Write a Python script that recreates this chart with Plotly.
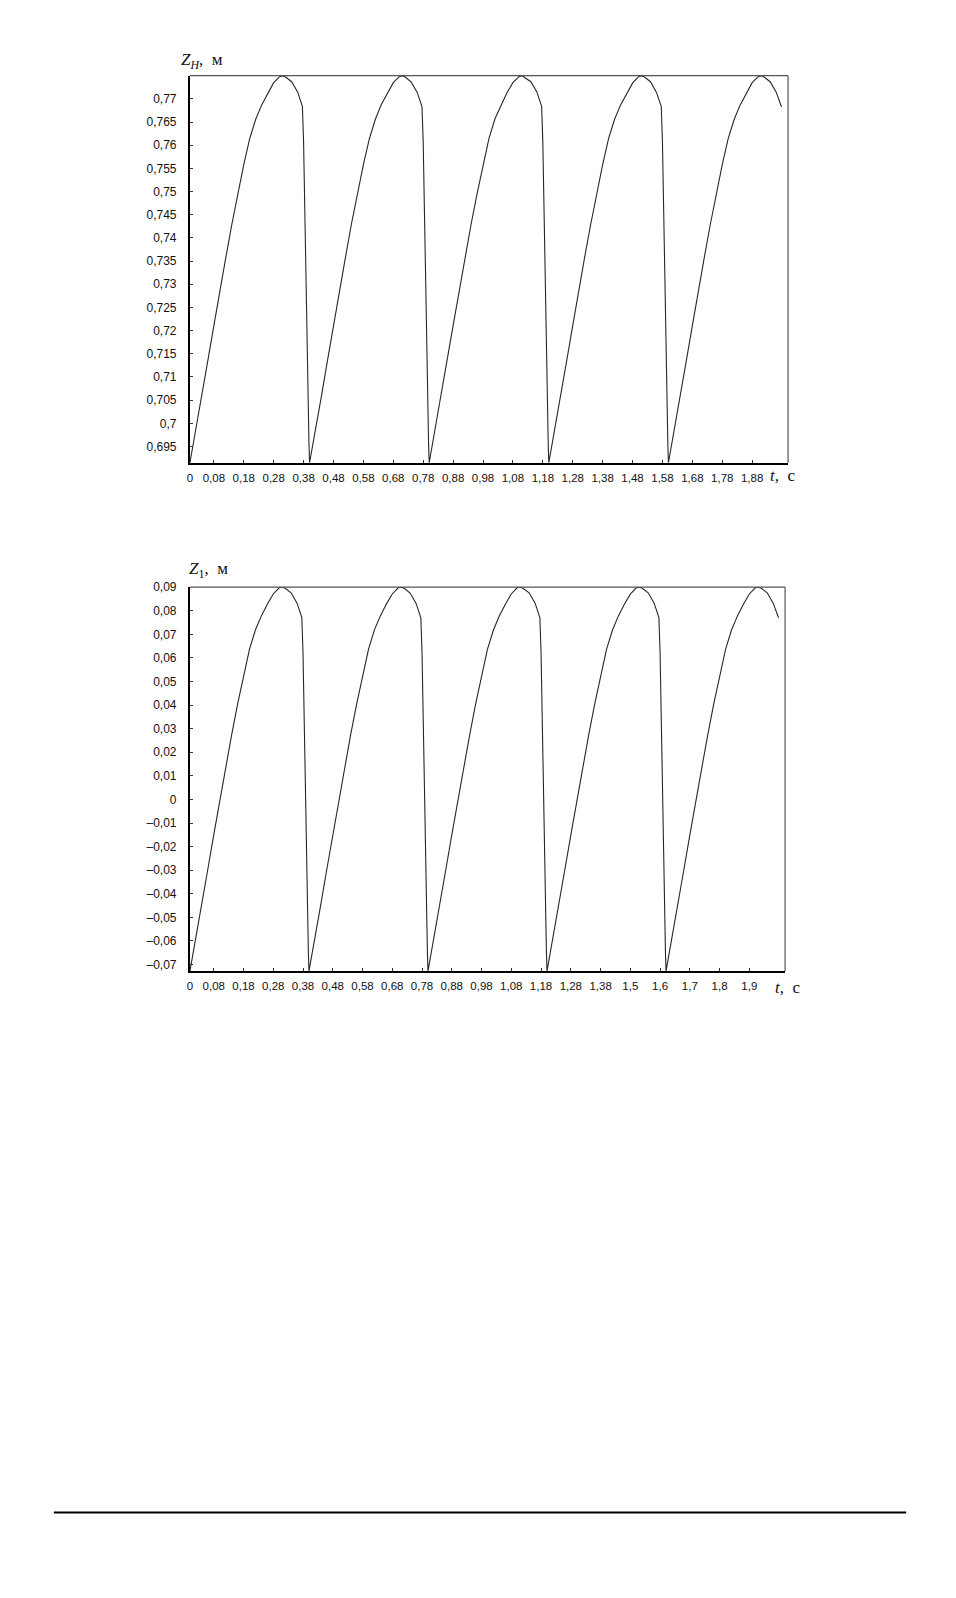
import plotly.graph_objects as go

# ---------------- data ----------------
t_c1 = [0.00, 0.02, 0.04, 0.06, 0.08, 0.10, 0.12, 0.14, 0.16, 0.18, 0.20, 0.22, 0.24,
        0.26, 0.28, 0.30, 0.31, 0.32, 0.34, 0.36, 0.376, 0.380, 0.384, 0.388, 0.393, 0.398]
t_c2 = [0.40, 0.42, 0.44, 0.46, 0.48, 0.50, 0.52, 0.54, 0.56, 0.58, 0.60, 0.62, 0.64,
        0.66, 0.68, 0.70, 0.71, 0.72, 0.74, 0.76, 0.776, 0.780, 0.784, 0.788, 0.793, 0.798]
t_c3 = [0.80, 0.82, 0.84, 0.86, 0.88, 0.90, 0.92, 0.94, 0.96, 0.98, 1.00, 1.02, 1.04,
        1.06, 1.08, 1.10, 1.11, 1.12, 1.14, 1.16, 1.176, 1.180, 1.184, 1.188, 1.193, 1.198]
t_c4 = [1.20, 1.22, 1.24, 1.26, 1.28, 1.30, 1.32, 1.34, 1.36, 1.38, 1.40, 1.42, 1.44,
        1.46, 1.48, 1.50, 1.51, 1.52, 1.54, 1.56, 1.576, 1.580, 1.584, 1.588, 1.593, 1.598]
t_c5 = [1.60, 1.62, 1.64, 1.66, 1.68, 1.70, 1.72, 1.74, 1.76, 1.78, 1.80, 1.82, 1.84,
        1.86, 1.88, 1.90, 1.91, 1.92, 1.94, 1.96, 1.978]

zh_c1 = [0.6915, 0.6986, 0.7061, 0.7136, 0.7211, 0.7287, 0.7358, 0.7429, 0.7495, 0.7558,
         0.7615, 0.7656, 0.7687, 0.7712, 0.7735, 0.7748, 0.7750, 0.7747, 0.7737, 0.7715,
         0.7684, 0.7608, 0.7449, 0.7282, 0.7107, 0.6957]
zh_c2 = [0.6915, 0.6985, 0.7060, 0.7136, 0.7212, 0.7287, 0.7358, 0.7430, 0.7496, 0.7558,
         0.7614, 0.7656, 0.7688, 0.7712, 0.7735, 0.7748, 0.7750, 0.7747, 0.7736, 0.7714,
         0.7683, 0.7606, 0.7447, 0.7280, 0.7105, 0.6956]
zh_c3 = [0.6915, 0.6986, 0.7061, 0.7137, 0.7211, 0.7286, 0.7358, 0.7429, 0.7495, 0.7559,
         0.7615, 0.7657, 0.7687, 0.7713, 0.7735, 0.7748, 0.7750, 0.7746, 0.7737, 0.7715,
         0.7684, 0.7607, 0.7448, 0.7281, 0.7106, 0.6957]
zh_c4 = [0.6915, 0.6986, 0.7060, 0.7136, 0.7211, 0.7287, 0.7359, 0.7429, 0.7496, 0.7558,
         0.7615, 0.7656, 0.7687, 0.7712, 0.7734, 0.7748, 0.7750, 0.7747, 0.7737, 0.7714,
         0.7684, 0.7608, 0.7449, 0.7282, 0.7107, 0.6957]
zh_c5 = [0.6915, 0.6986, 0.7061, 0.7136, 0.7211, 0.7287, 0.7358, 0.7429, 0.7495, 0.7558,
         0.7615, 0.7656, 0.7687, 0.7712, 0.7735, 0.7748, 0.7750, 0.7747, 0.7737, 0.7715,
         0.7683]

z1_c1 = [-0.0728, -0.0590, -0.0443, -0.0297, -0.0150, -0.0004, 0.0135, 0.0273, 0.0403, 0.0526,
         0.0636, 0.0718, 0.0778, 0.0827, 0.0871, 0.0897, 0.0900, 0.0895, 0.0876, 0.0832,
         0.0771, 0.0623, 0.0314, -0.0012, -0.0354, -0.0647]
z1_c2 = [-0.0728, -0.0591, -0.0444, -0.0296, -0.0149, -0.0003, 0.0136, 0.0274, 0.0403, 0.0527,
         0.0636, 0.0719, 0.0778, 0.0828, 0.0871, 0.0897, 0.0900, 0.0895, 0.0875, 0.0831,
         0.0770, 0.0621, 0.0312, -0.0014, -0.0356, -0.0648]
z1_c3 = [-0.0728, -0.0590, -0.0443, -0.0297, -0.0150, -0.0004, 0.0135, 0.0273, 0.0404, 0.0526,
         0.0637, 0.0718, 0.0779, 0.0827, 0.0871, 0.0898, 0.0900, 0.0894, 0.0876, 0.0832,
         0.0771, 0.0622, 0.0313, -0.0013, -0.0355, -0.0647]
z1_c4 = [-0.0728, -0.0589, -0.0442, -0.0297, -0.0151, -0.0004, 0.0134, 0.0273, 0.0403, 0.0526,
         0.0636, 0.0718, 0.0778, 0.0827, 0.0870, 0.0897, 0.0900, 0.0895, 0.0876, 0.0832,
         0.0771, 0.0623, 0.0314, -0.0012, -0.0354, -0.0647]
z1_c5 = [-0.0728, -0.0590, -0.0443, -0.0297, -0.0150, -0.0004, 0.0135, 0.0273, 0.0403, 0.0526,
         0.0636, 0.0718, 0.0778, 0.0827, 0.0871, 0.0897, 0.0900, 0.0895, 0.0876, 0.0832,
         0.0770]

x_tickvals = [0, 0.08, 0.18, 0.28, 0.38, 0.48, 0.58, 0.68, 0.78, 0.88, 0.98,
              1.08, 1.18, 1.28, 1.38, 1.48, 1.58, 1.68, 1.78, 1.88]
x_ticktext_top = ["0", "0,08", "0,18", "0,28", "0,38", "0,48", "0,58", "0,68", "0,78", "0,88", "0,98",
                  "1,08", "1,18", "1,28", "1,38", "1,48", "1,58", "1,68", "1,78", "1,88"]
x_ticktext_bot = ["0", "0,08", "0,18", "0,28", "0,38", "0,48", "0,58", "0,68", "0,78", "0,88", "0,98",
                  "1,08", "1,18", "1,28", "1,38", "1,5", "1,6", "1,7", "1,8", "1,9"]
yh_tickvals = [0.695, 0.70, 0.705, 0.71, 0.715, 0.72, 0.725, 0.73, 0.735, 0.74,
               0.745, 0.75, 0.755, 0.76, 0.765, 0.77]
yh_ticktext = ["0,695", "0,7", "0,705", "0,71", "0,715", "0,72", "0,725", "0,73", "0,735", "0,74",
               "0,745", "0,75", "0,755", "0,76", "0,765", "0,77"]
y1_tickvals = [-0.07, -0.06, -0.05, -0.04, -0.03, -0.02, -0.01, 0, 0.01, 0.02, 0.03,
               0.04, 0.05, 0.06, 0.07, 0.08, 0.09]
y1_ticktext = ["–0,07", "–0,06", "–0,05", "–0,04", "–0,03", "–0,02", "–0,01", "0", "0,01", "0,02", "0,03",
               "0,04", "0,05", "0,06", "0,07", "0,08", "0,09"]

t_h = t_c1 + t_c2 + t_c3 + t_c4 + t_c5
z_h = zh_c1 + zh_c2 + zh_c3 + zh_c4 + zh_c5
t_1 = t_c1 + t_c2 + t_c3 + t_c4 + t_c5
z_1 = z1_c1 + z1_c2 + z1_c3 + z1_c4 + z1_c5

# ---------------- layout helpers ----------------
W, H = 956, 1598
OFF = 8  # page body margin around the figure


def fx(px):
    return (px - OFF) / W


def fy(py):
    return 1 - (py - OFF) / H


TOP = dict(x0=187.5, x1=787.5, y0=69, y1=458)
BOT = dict(x0=187.5, x1=784.5, y0=583, y1=969)

tickfont = dict(family="Liberation Sans, Arial, sans-serif", size=12, color="#111")
xtickfont = dict(family="Liberation Sans, Arial, sans-serif", size=11.5, color="#111")
serif = dict(family="Liberation Serif, Times New Roman, serif", size=17, color="#111")

common_x = dict(range=[0, 2.0], showgrid=False, zeroline=False, showline=True,
                linecolor="black", linewidth=2, ticks="inside", ticklen=3,
                tickcolor="#333", tickwidth=1, tickfont=xtickfont, tickmode="array",
                tickvals=x_tickvals, fixedrange=True)
common_y = dict(showgrid=False, zeroline=False, showline=True,
                linecolor="black", linewidth=2, ticks="inside", ticklen=3,
                tickcolor="#333", tickwidth=1, tickfont=tickfont, tickmode="array",
                ticklabelstandoff=9, fixedrange=True)

fig = go.Figure()
fig.add_trace(go.Scatter(x=t_h, y=z_h, mode="lines", line=dict(color="#262626", width=1.1),
                         xaxis="x", yaxis="y", showlegend=False, hoverinfo="skip"))
fig.add_trace(go.Scatter(x=t_1, y=z_1, mode="lines", line=dict(color="#262626", width=1.1),
                         xaxis="x2", yaxis="y2", showlegend=False, hoverinfo="skip"))

fig.update_layout(
    width=W, height=H,
    margin=dict(l=0, r=0, t=0, b=0),
    paper_bgcolor="white", plot_bgcolor="white",
    xaxis=dict(common_x, domain=[fx(TOP["x0"]), fx(TOP["x1"])], anchor="y",
               ticktext=x_ticktext_top, ticklabelstandoff=3),
    yaxis=dict(common_y, domain=[fy(TOP["y1"]), fy(TOP["y0"])], anchor="x",
               range=[0.6915, 0.775], tickvals=yh_tickvals, ticktext=yh_ticktext),
    xaxis2=dict(common_x, domain=[fx(BOT["x0"]), fx(BOT["x1"])], anchor="y2",
                ticktext=x_ticktext_bot, ticklabelstandoff=3),
    yaxis2=dict(common_y, domain=[fy(BOT["y1"]), fy(BOT["y0"])], anchor="x2",
                range=[-0.0728, 0.09], tickvals=y1_tickvals, ticktext=y1_ticktext),
    shapes=[
        dict(type="line", xref="x domain", yref="y domain", x0=0, x1=1, y0=1, y1=1,
             line=dict(color="#555", width=1.2)),
        dict(type="line", xref="x domain", yref="y domain", x0=1, x1=1, y0=0, y1=1,
             line=dict(color="#555", width=1.2)),
        dict(type="line", xref="x2 domain", yref="y2 domain", x0=0, x1=1, y0=1, y1=1,
             line=dict(color="#555", width=1.2)),
        dict(type="line", xref="x2 domain", yref="y2 domain", x0=1, x1=1, y0=0, y1=1,
             line=dict(color="#555", width=1.2)),
        dict(type="line", xref="paper", yref="paper", x0=fx(51), x1=fx(906), y0=fy(1513), y1=fy(1513),
             line=dict(color="black", width=2)),
    ],
    annotations=[
        dict(xref="paper", yref="paper", x=fx(177), y=fy(54), xanchor="left", yanchor="middle",
             text="<i>Z</i><sub><i>H</i></sub>, &nbsp;м", showarrow=False, font=serif),
        dict(xref="paper", yref="paper", x=fx(767), y=fy(471), xanchor="left", yanchor="middle",
             text="<i>t</i>, &nbsp;с", showarrow=False, font=serif),
        dict(xref="paper", yref="paper", x=fx(185), y=fy(566), xanchor="left", yanchor="middle",
             text="<i>Z</i><sub>1</sub>, &nbsp;м", showarrow=False, font=serif),
        dict(xref="paper", yref="paper", x=fx(772), y=fy(985), xanchor="left", yanchor="middle",
             text="<i>t</i>, &nbsp;с", showarrow=False, font=serif),
    ],
)

fig.write_html("out.html")
